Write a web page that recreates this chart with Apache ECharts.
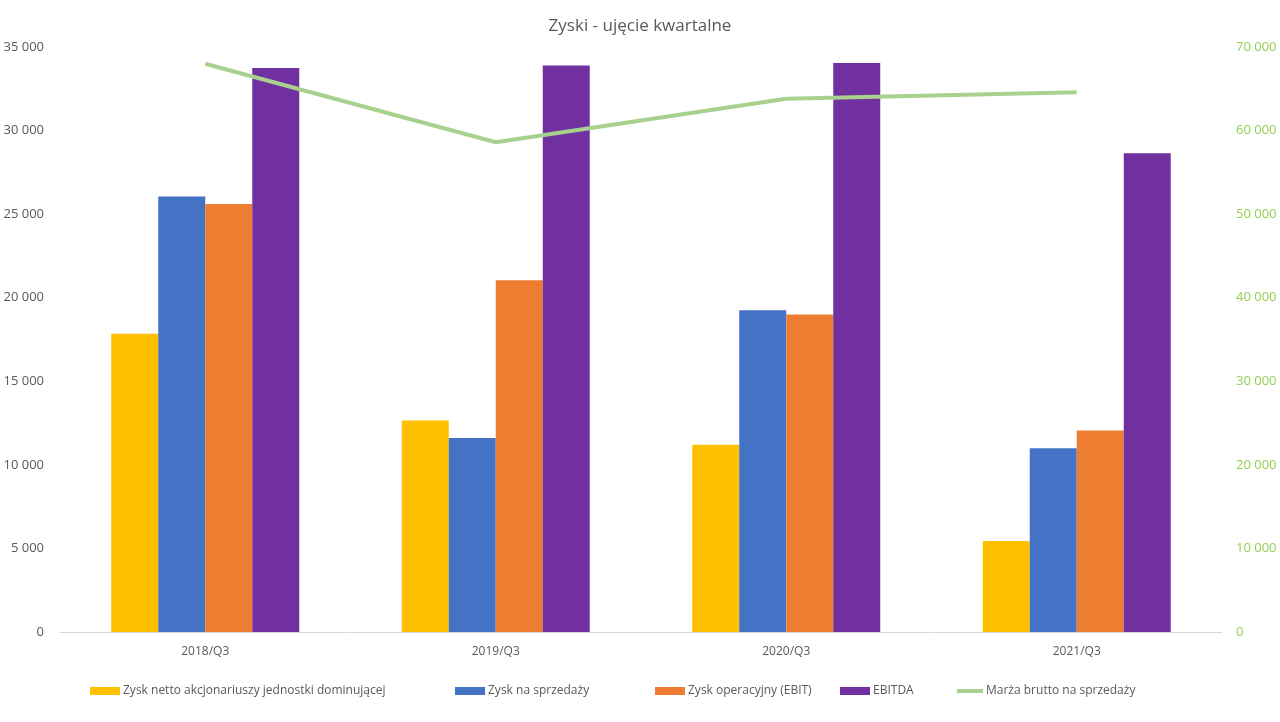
<!DOCTYPE html>
<html>
<head>
<meta charset="utf-8">
<script src="https://cdn.jsdelivr.net/npm/echarts@6/dist/echarts.min.js"></script>
<style>
  html, body { margin: 0; padding: 0; background: #fff; }
  #main { width: 1280px; height: 722px; }
</style>
</head>
<body>
<div id="main"></div>
<script>
const categories = ['2018/Q3', '2019/Q3', '2020/Q3', '2021/Q3']
const zyskNetto = [17850, 12650, 11200, 5450]
const zyskSprzedaz = [26050, 11600, 19250, 11000]
const zyskOperacyjny = [25600, 21050, 19000, 12050]
const ebitda = [33750, 33900, 34050, 28650]
const marzaBrutto = [68000, 58600, 63800, 64600]

const names = [
  'Zysk netto akcjonariuszy jednostki dominującej',
  'Zysk na sprzedaży',
  'Zysk operacyjny (EBIT)',
  'EBITDA',
  'Marża brutto na sprzedaży'
]
const colors = ['#ffc000', '#4472c4', '#ed7d31', '#7030a0', '#a9d18e']

const fmt = v => String(v).replace(/\B(?=(\d{3})+(?!\d))/g, ' ')

var myChart = echarts.init(document.getElementById('main'))

// legend positions (one per item, like Excel spacing)
const legendLeft = [90, 455, 655, 840, 957]
const legends = names.map((n, i) => ({
  data: [{ name: n, icon: i === 4 ? 'rect' : 'rect' }],
  left: legendLeft[i],
  top: 685,
  padding: 0,
  itemWidth: i === 4 ? 26 : 30,
  itemHeight: i === 4 ? 4 : 8,
  textStyle: { color: '#595959', fontSize: 12, fontFamily: 'Open Sans', padding: [0, 0, 0, -2] }
}))

const barSeries = [zyskNetto, zyskSprzedaz, zyskOperacyjny, ebitda].map((d, i) => ({
  name: names[i],
  type: 'bar',
  data: d,
  barWidth: 47,
  barGap: '0%',
  itemStyle: { color: colors[i] }
}))

const option = {
  animation: false,
  title: {
    text: 'Zyski - ujęcie kwartalne',
    left: 'center',
    top: 13,
    textStyle: { color: '#595959', fontSize: 17, fontWeight: 'normal', fontFamily: 'Open Sans' }
  },
  legend: legends,
  grid: { left: 60, right: 58, top: 47, bottom: 90 },
  xAxis: {
    type: 'category',
    data: categories,
    axisTick: { show: false },
    axisLine: { lineStyle: { color: '#d9d9d9', width: 1 } },
    axisLabel: { color: '#595959', fontSize: 12, margin: 14, fontFamily: 'Open Sans' }
  },
  yAxis: [
    {
      type: 'value',
      min: 0, max: 35000, interval: 5000,
      splitLine: { show: false },
      axisLine: { show: false },
      axisTick: { show: false },
      axisLabel: { color: '#595959', fontSize: 13, margin: 16, formatter: fmt, fontFamily: 'Open Sans' }
    },
    {
      type: 'value',
      min: 0, max: 70000, interval: 10000,
      splitLine: { show: false },
      axisLine: { show: false },
      axisTick: { show: false },
      axisLabel: { color: '#92d050', fontSize: 13, margin: 14, formatter: fmt, fontFamily: 'Open Sans' }
    }
  ],
  series: barSeries.concat([{
    name: names[4],
    type: 'line',
    yAxisIndex: 1,
    data: marzaBrutto,
    symbol: 'none',
    z: 5,
    lineStyle: { color: colors[4], width: 4 },
    itemStyle: { color: colors[4] }
  }])
}
myChart.setOption(option)
</script>
</body>
</html>
